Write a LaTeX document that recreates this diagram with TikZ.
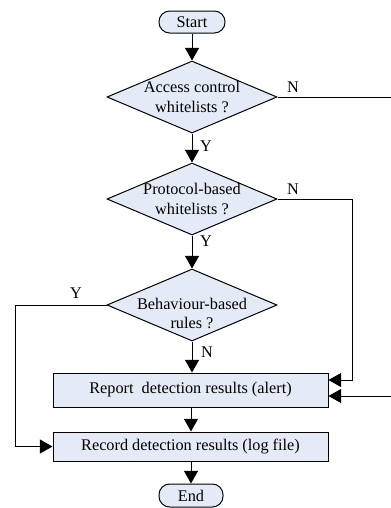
\documentclass[tikz,border=0pt]{standalone}
\usepackage{fontspec}
\setmainfont{Liberation Serif}
\usepackage{tikz}
\usetikzlibrary{shapes.geometric,arrows.meta}

\definecolor{boxfill}{RGB}{228,234,246}

\tikzset{
    base/.style={draw, fill=boxfill, line width=0.75pt, font=\fontsize{12.2}{14.5}\selectfont, align=center},
    terminal/.style={base, rounded corners=8pt, minimum width=49.5pt, minimum height=16.5pt, inner sep=0pt},
    decision/.style={base, diamond, aspect=2.36, minimum width=127.5pt, minimum height=54pt, inner sep=-3pt},
    process/.style={base, minimum width=206.25pt, inner sep=0pt},
    lbl/.style={font=\fontsize{12.2}{14.5}\selectfont, inner sep=0pt},
    flow/.style={line width=0.75pt, -{Triangle[length=9.5pt,width=10.5pt]}}
}

\begin{document}
\begin{tikzpicture}[x=0.75pt, y=-0.75pt]
        \useasboundingbox (0,0) rectangle (391,508);
        % nodes
        \node[terminal] (start) at (192,22) {Start};
        \node[decision] (acl) at (192,97) {Access control\\whitelists ?};
        \node[decision] (proto) at (192,199) {Protocol-based\\whitelists ?};
        \node[decision, label={[lbl, align=center, yshift=-6.5pt]center:Behaviour-based\\rules ?}] (behav) at (192,305) {};
        \node[process, minimum height=25.5pt] (report) at (190.5,390) {Report\ \ detection results (alert)};
        \node[process, minimum height=21.75pt] (record) at (190.5,446.5) {Record detection results (log file)};
        \node[terminal, minimum width=48pt, minimum height=17.25pt] (stop) at (191,495.5) {End};
        % labels
        \node[lbl] (aclN) at (293,87) {N};
        \node[lbl] (aclY) at (206,146) {Y};
        \node[lbl] (protoN) at (293,189) {N};
        \node[lbl] (protoY) at (206,241) {Y};
        \node[lbl] (behavY) at (76,293) {Y};
        \node[lbl] (behavN) at (207,352) {N};
        % connectors
        \draw[flow] (start) -- (acl);
        \draw[flow] (acl) -- (proto);
        \draw[flow] (proto) -- (behav);
        \draw[flow] (behav) -- (report.north -| behav.south);
        \draw[flow] (report.south -| stop.north) -- (record.north -| stop.north);
        \draw[flow] (record.south -| stop.north) -- (stop);
        \draw[flow] (acl.east) -- (396,97) -- (396,396) -- (report.east |- 0,396);
        \draw[flow] (proto.east) -- (352,199) -- (352,380) -- (report.east |- 0,380);
        \draw[flow] (behav.west) -- (15,305) -- (15,446.5) -- (record.west);
    \end{tikzpicture}
\end{document}
